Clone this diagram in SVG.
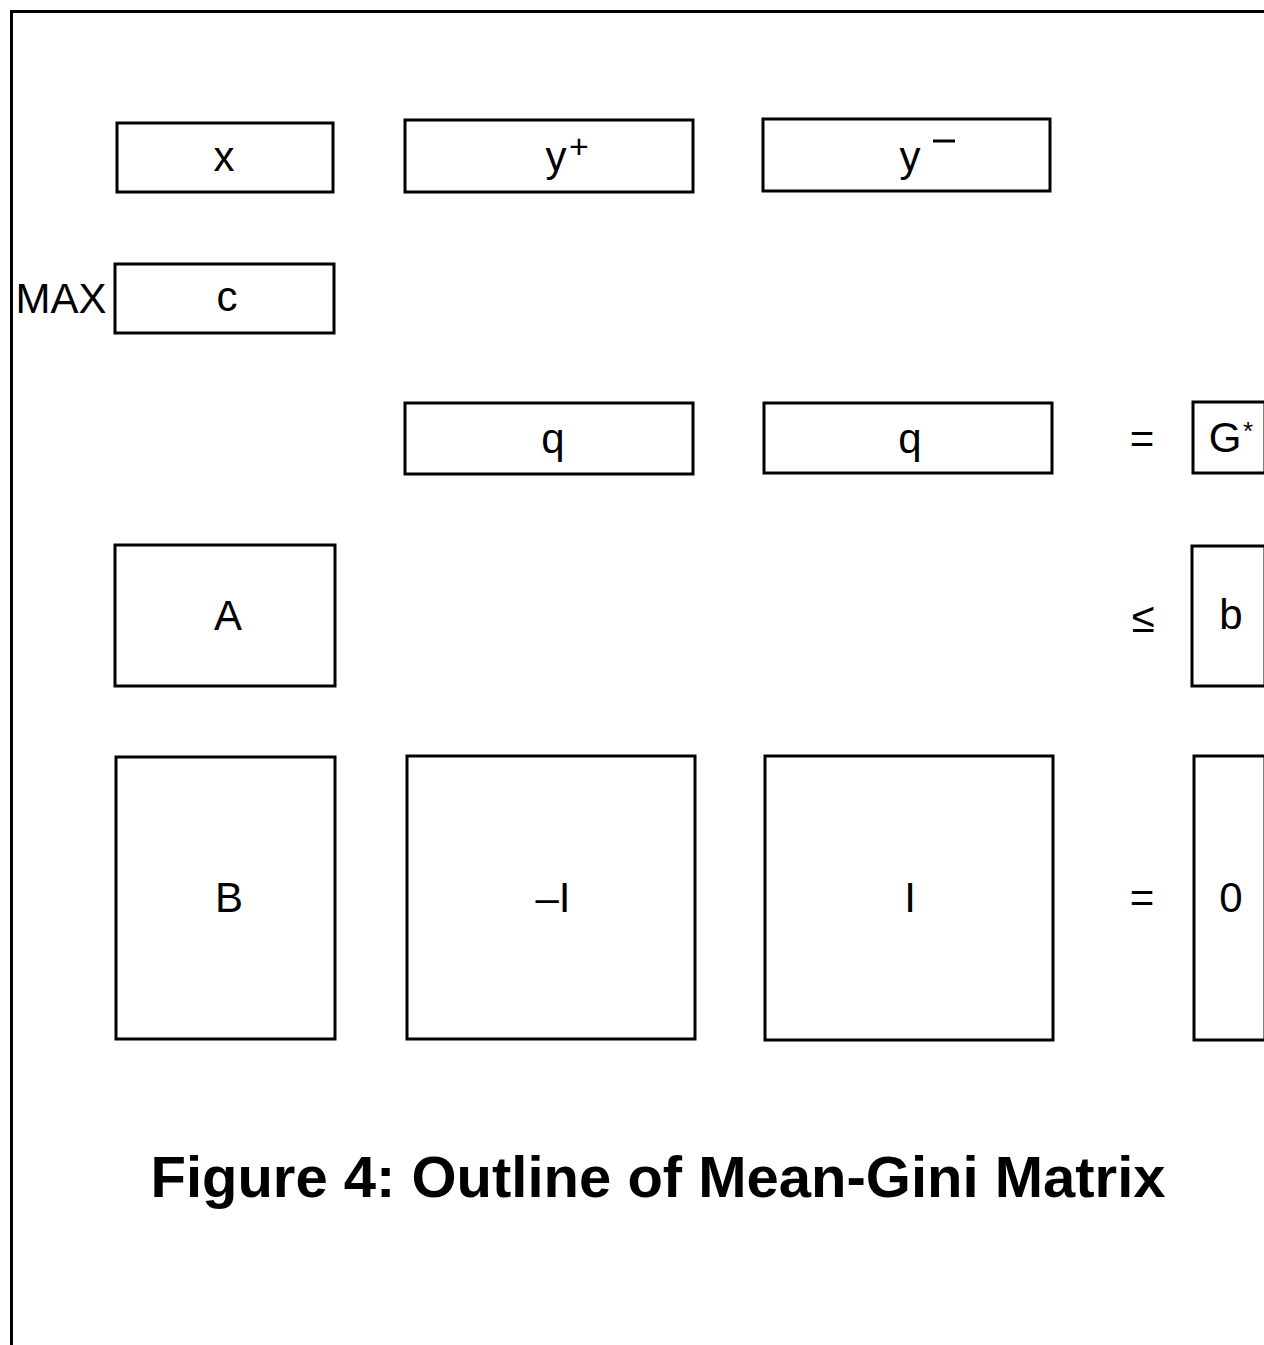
<svg xmlns="http://www.w3.org/2000/svg" width="1264" height="1345" viewBox="0 0 1264 1345">
<style>
.b{fill:#fff;stroke:#000;stroke-width:3}
.t{font-family:"Liberation Sans",Arial,sans-serif;font-size:42px;fill:#000;text-anchor:middle}
.s{font-family:"Liberation Sans",Arial,sans-serif;font-size:34px;fill:#000}
.ttl{font-family:"Liberation Sans",Arial,sans-serif;font-size:58px;font-weight:bold;fill:#000;text-anchor:middle}
</style>
<rect width="1264" height="1345" fill="#fff"/>
<path d="M11.5 1345 V11.5 H1264" fill="none" stroke="#000" stroke-width="3"/>
<g id="node-x"><rect class="b" x="117" y="123" width="216" height="69"/><text class="t" x="224" y="171">x</text></g>
<g id="node-yplus"><rect class="b" x="405" y="120" width="288" height="72"/><text class="t" x="556" y="171">y</text><text class="s" x="569" y="158">+</text></g>
<g id="node-yminus"><rect class="b" x="763" y="119" width="287" height="72"/><text class="t" x="910" y="171">y</text><path d="M933 141 H955" stroke="#000" stroke-width="3"/></g>
<g id="node-max"><text class="t" x="61" y="313">MAX</text></g>
<g id="node-c"><rect class="b" x="115" y="264" width="219" height="69"/><text class="t" x="227" y="311">c</text></g>
<g id="node-q1"><rect class="b" x="405" y="403" width="288" height="71"/><text class="t" x="553" y="453">q</text></g>
<g id="node-q2"><rect class="b" x="764" y="403" width="288" height="70"/><text class="t" x="910" y="453">q</text></g>
<g id="node-eq1"><text class="t" x="1142" y="453">=</text></g>
<g id="node-gstar"><rect class="b" x="1193" y="402" width="72" height="71"/><text class="t" x="1225" y="452">G</text><text class="s" x="1243" y="440" style="font-size:26px">*</text></g>
<g id="node-A"><rect class="b" x="115" y="545" width="220" height="141"/><text class="t" x="228" y="630">A</text></g>
<g id="node-le"><text class="t" x="1143" y="632">≤</text></g>
<g id="node-b"><rect class="b" x="1192" y="546" width="73" height="140"/><text class="t" x="1231" y="629">b</text></g>
<g id="node-B"><rect class="b" x="116" y="757" width="219" height="282"/><text class="t" x="229" y="912">B</text></g>
<g id="node-negI"><rect class="b" x="407" y="756" width="288" height="283"/><text class="t" x="553" y="912">–I</text></g>
<g id="node-I"><rect class="b" x="765" y="756" width="288" height="284"/><text class="t" x="910" y="912">I</text></g>
<g id="node-eq2"><text class="t" x="1142" y="912">=</text></g>
<g id="node-0"><rect class="b" x="1194" y="756" width="71" height="284"/><text class="t" x="1231" y="912">0</text></g>
<g id="connectors"></g>
<text class="ttl" x="658" y="1197">Figure 4: Outline of Mean-Gini Matrix</text>
</svg>
